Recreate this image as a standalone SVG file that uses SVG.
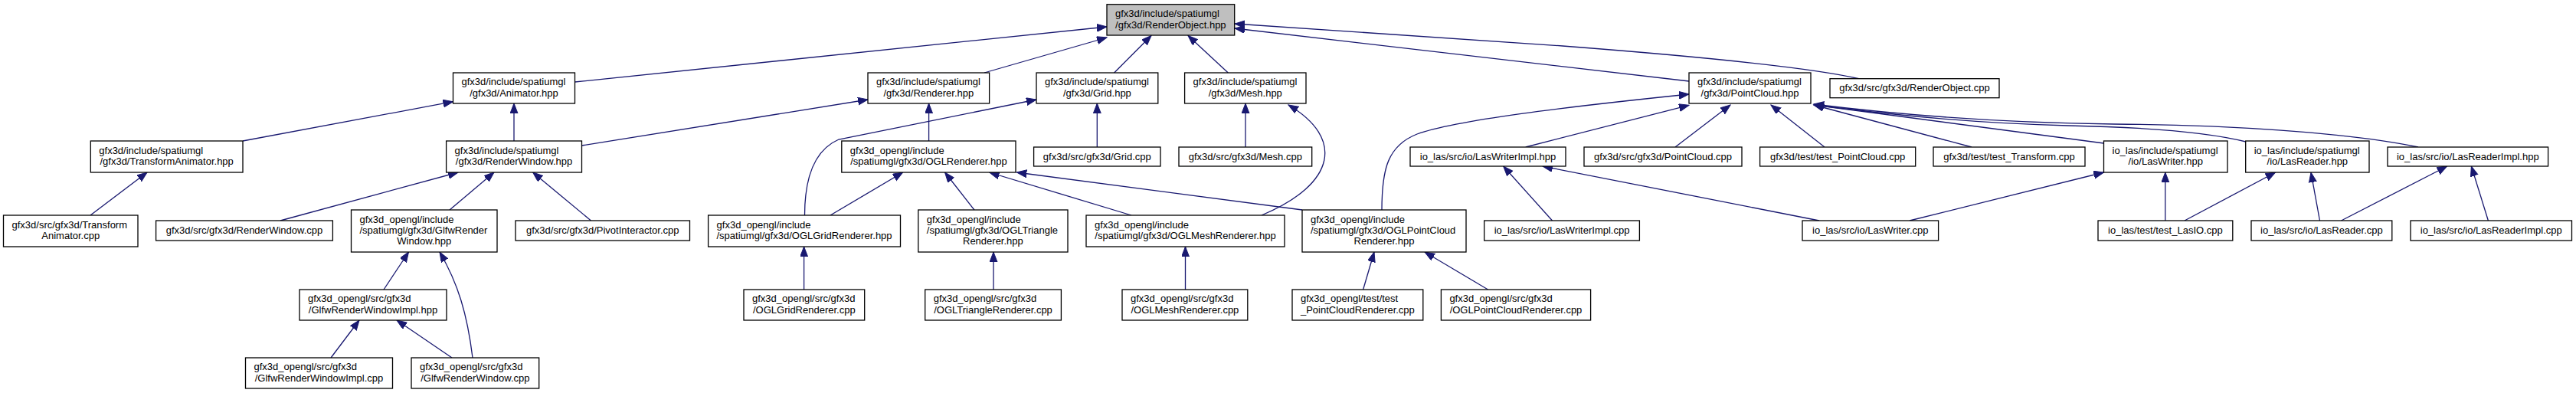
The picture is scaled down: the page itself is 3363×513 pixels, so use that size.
<svg xmlns="http://www.w3.org/2000/svg" width="3363" height="513" viewBox="0 0 3363 513">
<defs>
<style>
.node rect{fill:#ffffff;stroke:#000000;stroke-width:1.3}
.node.root rect{fill:#bfbfbf}
.node text{font-family:"Liberation Sans",Arial,sans-serif;font-size:13px;fill:#000000}
.m{text-anchor:middle}
#edges path{fill:none;stroke:#191970;stroke-width:1.3;marker-end:url(#arr)}
</style>
<marker id="arr" markerWidth="16" markerHeight="12" refX="13" refY="5" orient="auto" markerUnits="userSpaceOnUse">
<path d="M0,0 L13,5 L0,10 z" fill="#191970" stroke="#191970" stroke-width="1"/>
</marker>
</defs>
<rect width="3363" height="513" fill="#ffffff"/>
<g id="edges">
<path d="M317,184 L591.5,132.7"/>
<path d="M671,184 L671,135"/>
<path d="M750.5,107 L1445,35"/>
<path d="M1285,95 L1445,49"/>
<path d="M759.5,190 L1133,130"/>
<path d="M1454.6,95 L1503,46.5"/>
<path d="M1603.3,95 L1551,46.5"/>
<path d="M2205,106 L1612,37"/>
<path d="M2428,103 C2390,94 2300,80 2040,60 L1612,31"/>
<path d="M1432.3,192 L1432.3,135"/>
<path d="M1626,192 L1626,135"/>
<path d="M1212.6,184 L1212.6,135"/>
<path d="M1050.5,281 C1050.5,230 1065,195 1095,182 L1353,130"/>
<path d="M1084,281 L1178.7,225"/>
<path d="M1272,274 L1233.6,225"/>
<path d="M1477,281 L1291.6,225"/>
<path d="M1700,274 L1327.3,225"/>
<path d="M1647,281 C1745,240 1755,180 1682,137"/>
<path d="M1049.6,378 L1049.6,322"/>
<path d="M1297,378 L1297,329"/>
<path d="M1547.5,378 L1547.5,322"/>
<path d="M1779.6,378 L1794,329"/>
<path d="M1942.6,378 L1860,329"/>
<path d="M1804,274 C1804,220 1812,190 1850,175 C1900,157 2040,140 2205,123"/>
<path d="M1991.7,192 L2205,137.3"/>
<path d="M2187,192 L2259,137"/>
<path d="M2382,192 L2312,137"/>
<path d="M2574,192 L2368,137"/>
<path d="M2746.5,187 L2368,137"/>
<path d="M2932,185 C2880,172 2800,166 2700,164 C2580,161 2480,151 2368,137"/>
<path d="M3157,192 C3060,172 2900,163 2760,162 C2600,160 2480,150 2368,136"/>
<path d="M366,288 L598,225"/>
<path d="M587,274 L645,225"/>
<path d="M771.5,288 L695.6,225"/>
<path d="M118,281 L192,225"/>
<path d="M501,378 L533.5,329"/>
<path d="M617,467 C610,410 598,370 574,329"/>
<path d="M432,467 L469,418"/>
<path d="M590,467 L518,418"/>
<path d="M2026.5,288 L1962.7,217"/>
<path d="M2375,288 L2014,217"/>
<path d="M2493,288 L2746.5,225"/>
<path d="M2826.8,288 L2826.8,225"/>
<path d="M2852,288 L2970.6,225"/>
<path d="M3028.5,288 L3017,225"/>
<path d="M3056.5,288 L3194.7,217"/>
<path d="M3248.4,288 L3226.4,217"/>
</g>
<g id="n1" class="node root"><rect x="1445" y="5.7" width="166.7" height="40.3"/><text x="1456" y="22.2">gfx3d/include/spatiumgl</text><text class="m" x="1528.35" y="36.6">/gfx3d/RenderObject.hpp</text></g>
<g id="n2" class="node"><rect x="591.5" y="95" width="159" height="40"/><text x="602.5" y="111.3">gfx3d/include/spatiumgl</text><text class="m" x="671" y="125.7">/gfx3d/Animator.hpp</text></g>
<g id="n3" class="node"><rect x="1133" y="95" width="158.6" height="40"/><text x="1144" y="111.3">gfx3d/include/spatiumgl</text><text class="m" x="1212.3" y="125.7">/gfx3d/Renderer.hpp</text></g>
<g id="n4" class="node"><rect x="1353" y="95" width="158.8" height="40"/><text x="1364" y="111.3">gfx3d/include/spatiumgl</text><text class="m" x="1432.4" y="125.7">/gfx3d/Grid.hpp</text></g>
<g id="n5" class="node"><rect x="1546.6" y="95" width="158.4" height="40"/><text x="1557.6" y="111.3">gfx3d/include/spatiumgl</text><text class="m" x="1625.8" y="125.7">/gfx3d/Mesh.hpp</text></g>
<g id="n6" class="node"><rect x="2205" y="95" width="159" height="40"/><text x="2216" y="111.3">gfx3d/include/spatiumgl</text><text class="m" x="2284.5" y="125.7">/gfx3d/PointCloud.hpp</text></g>
<g id="n7" class="node"><rect x="2389" y="102.7" width="221" height="25"/><text class="m" x="2499.5" y="119.2">gfx3d/src/gfx3d/RenderObject.cpp</text></g>
<g id="n8" class="node"><rect x="118.3" y="184" width="198.7" height="41"/><text x="129.3" y="200.8">gfx3d/include/spatiumgl</text><text class="m" x="217.65" y="215.2">/gfx3d/TransformAnimator.hpp</text></g>
<g id="n9" class="node"><rect x="582.6" y="184" width="176.9" height="41"/><text x="593.6" y="200.8">gfx3d/include/spatiumgl</text><text class="m" x="671.05" y="215.2">/gfx3d/RenderWindow.hpp</text></g>
<g id="n10" class="node"><rect x="1098.8" y="184" width="227.2" height="41"/><text x="1109.8" y="200.8">gfx3d_opengl/include</text><text class="m" x="1212.4" y="215.2">/spatiumgl/gfx3d/OGLRenderer.hpp</text></g>
<g id="n11" class="node"><rect x="1349.6" y="192" width="165.4" height="25"/><text class="m" x="1432.3" y="208.5">gfx3d/src/gfx3d/Grid.cpp</text></g>
<g id="n12" class="node"><rect x="1539" y="192" width="173.7" height="25"/><text class="m" x="1625.85" y="208.5">gfx3d/src/gfx3d/Mesh.cpp</text></g>
<g id="n13" class="node"><rect x="1841" y="192" width="203" height="25"/><text class="m" x="1942.5" y="208.5">io_las/src/io/LasWriterImpl.hpp</text></g>
<g id="n14" class="node"><rect x="2068" y="192" width="206" height="25"/><text class="m" x="2171" y="208.5">gfx3d/src/gfx3d/PointCloud.cpp</text></g>
<g id="n15" class="node"><rect x="2297.6" y="192" width="203.1" height="25"/><text class="m" x="2399.15" y="208.5">gfx3d/test/test_PointCloud.cpp</text></g>
<g id="n16" class="node"><rect x="2524" y="192" width="198" height="25"/><text class="m" x="2623" y="208.5">gfx3d/test/test_Transform.cpp</text></g>
<g id="n17" class="node"><rect x="2746.5" y="184" width="161.5" height="41"/><text x="2757.5" y="200.8">io_las/include/spatiumgl</text><text class="m" x="2827.25" y="215.2">/io/LasWriter.hpp</text></g>
<g id="n18" class="node"><rect x="2931.7" y="184" width="161.3" height="41"/><text x="2942.7" y="200.8">io_las/include/spatiumgl</text><text class="m" x="3012.35" y="215.2">/io/LasReader.hpp</text></g>
<g id="n19" class="node"><rect x="3117" y="192" width="209.6" height="25"/><text class="m" x="3221.8" y="208.5">io_las/src/io/LasReaderImpl.hpp</text></g>
<g id="n20" class="node"><rect x="4.5" y="281" width="175.5" height="41"/><text x="15.5" y="297.8">gfx3d/src/gfx3d/Transform</text><text class="m" x="92.25" y="312.2">Animator.cpp</text></g>
<g id="n21" class="node"><rect x="203.6" y="288" width="230.8" height="26"/><text class="m" x="319" y="305">gfx3d/src/gfx3d/RenderWindow.cpp</text></g>
<g id="n22" class="node"><rect x="458.5" y="274" width="190.5" height="55"/><text x="469.5" y="290.6">gfx3d_opengl/include</text><text x="469.5" y="305">/spatiumgl/gfx3d/GlfwRender</text><text class="m" x="553.75" y="319.4">Window.hpp</text></g>
<g id="n23" class="node"><rect x="673" y="288" width="227.5" height="26"/><text class="m" x="786.75" y="305">gfx3d/src/gfx3d/PivotInteractor.cpp</text></g>
<g id="n24" class="node"><rect x="924.6" y="281" width="250.9" height="41"/><text x="935.6" y="297.8">gfx3d_opengl/include</text><text class="m" x="1050.05" y="312.2">/spatiumgl/gfx3d/OGLGridRenderer.hpp</text></g>
<g id="n25" class="node"><rect x="1198.8" y="274" width="195.2" height="55"/><text x="1209.8" y="290.6">gfx3d_opengl/include</text><text x="1209.8" y="305">/spatiumgl/gfx3d/OGLTriangle</text><text class="m" x="1296.4" y="319.4">Renderer.hpp</text></g>
<g id="n26" class="node"><rect x="1418" y="281" width="259" height="41"/><text x="1429" y="297.8">gfx3d_opengl/include</text><text class="m" x="1547.5" y="312.2">/spatiumgl/gfx3d/OGLMeshRenderer.hpp</text></g>
<g id="n27" class="node"><rect x="1700" y="274" width="214" height="55"/><text x="1711" y="290.6">gfx3d_opengl/include</text><text x="1711" y="305">/spatiumgl/gfx3d/OGLPointCloud</text><text class="m" x="1807" y="319.4">Renderer.hpp</text></g>
<g id="n28" class="node"><rect x="1937.7" y="288" width="202.7" height="26"/><text class="m" x="2039.05" y="305">io_las/src/io/LasWriterImpl.cpp</text></g>
<g id="n29" class="node"><rect x="2353" y="288" width="177.6" height="26"/><text class="m" x="2441.8" y="305">io_las/src/io/LasWriter.cpp</text></g>
<g id="n30" class="node"><rect x="2739" y="288" width="175.8" height="26"/><text class="m" x="2826.9" y="305">io_las/test/test_LasIO.cpp</text></g>
<g id="n31" class="node"><rect x="2939" y="288" width="183.8" height="26"/><text class="m" x="3030.9" y="305">io_las/src/io/LasReader.cpp</text></g>
<g id="n32" class="node"><rect x="3147" y="288" width="210.5" height="26"/><text class="m" x="3252.25" y="305">io_las/src/io/LasReaderImpl.cpp</text></g>
<g id="n33" class="node"><rect x="391" y="378" width="192" height="40"/><text x="402" y="394.3">gfx3d_opengl/src/gfx3d</text><text class="m" x="487" y="408.7">/GlfwRenderWindowImpl.hpp</text></g>
<g id="n34" class="node"><rect x="971" y="378" width="157.7" height="40"/><text x="982" y="394.3">gfx3d_opengl/src/gfx3d</text><text class="m" x="1049.85" y="408.7">/OGLGridRenderer.cpp</text></g>
<g id="n35" class="node"><rect x="1207.7" y="378" width="177.7" height="40"/><text x="1218.7" y="394.3">gfx3d_opengl/src/gfx3d</text><text class="m" x="1296.55" y="408.7">/OGLTriangleRenderer.cpp</text></g>
<g id="n36" class="node"><rect x="1465" y="378" width="163.8" height="40"/><text x="1476" y="394.3">gfx3d_opengl/src/gfx3d</text><text class="m" x="1546.9" y="408.7">/OGLMeshRenderer.cpp</text></g>
<g id="n37" class="node"><rect x="1687" y="378" width="170.8" height="40"/><text x="1698" y="394.3">gfx3d_opengl/test/test</text><text class="m" x="1772.4" y="408.7">_PointCloudRenderer.cpp</text></g>
<g id="n38" class="node"><rect x="1881.4" y="378" width="195.2" height="40"/><text x="1892.4" y="394.3">gfx3d_opengl/src/gfx3d</text><text class="m" x="1979" y="408.7">/OGLPointCloudRenderer.cpp</text></g>
<g id="n39" class="node"><rect x="320.5" y="467" width="192" height="40"/><text x="331.5" y="483.3">gfx3d_opengl/src/gfx3d</text><text class="m" x="416.5" y="497.7">/GlfwRenderWindowImpl.cpp</text></g>
<g id="n40" class="node"><rect x="537" y="467" width="166.7" height="40"/><text x="548" y="483.3">gfx3d_opengl/src/gfx3d</text><text class="m" x="620.35" y="497.7">/GlfwRenderWindow.cpp</text></g>
</svg>
